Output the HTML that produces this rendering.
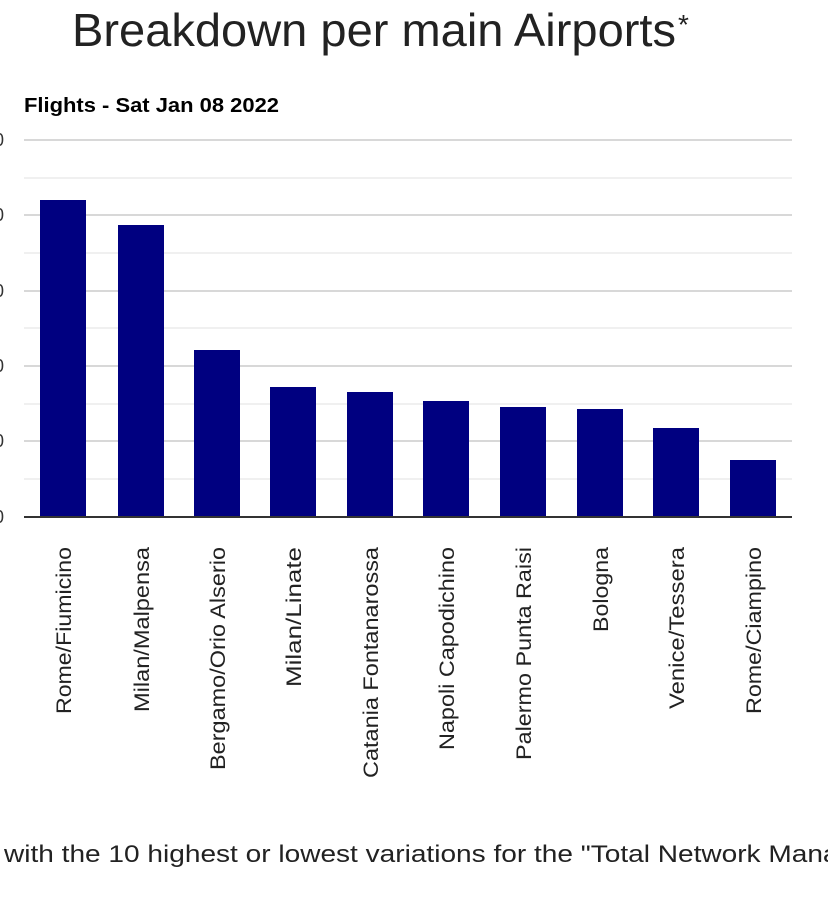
<!DOCTYPE html>
<html><head><meta charset="utf-8"><style>
body{margin:0;width:828px;height:892px;background:#fff;overflow:hidden;font-family:"Liberation Sans",sans-serif;}
</style></head><body>
<svg width="828" height="892" xmlns="http://www.w3.org/2000/svg" font-family="Liberation Sans, sans-serif">
<text x="72" y="46" font-size="46" fill="#222" textLength="604" lengthAdjust="spacingAndGlyphs">Breakdown per main Airports</text>
<text x="678" y="34" font-size="28" fill="#222">*</text>
<text x="24" y="112" font-size="20" font-weight="bold" fill="#000" textLength="255" lengthAdjust="spacingAndGlyphs">Flights - Sat Jan 08 2022</text>
<g stroke="#ececec" stroke-width="1.5">
<line x1="24" x2="792" y1="178" y2="178"/><line x1="24" x2="792" y1="253" y2="253"/><line x1="24" x2="792" y1="328" y2="328"/><line x1="24" x2="792" y1="404" y2="404"/><line x1="24" x2="792" y1="479" y2="479"/>
</g>
<g stroke="#cccccc" stroke-width="1.5">
<line x1="24" x2="792" y1="140" y2="140"/><line x1="24" x2="792" y1="215" y2="215"/><line x1="24" x2="792" y1="291" y2="291"/><line x1="24" x2="792" y1="366" y2="366"/><line x1="24" x2="792" y1="441" y2="441"/>
</g>
<g font-size="18" fill="#333"><text x="-6" y="146">0</text><text x="-6" y="221">0</text><text x="-6" y="297">0</text><text x="-6" y="372">0</text><text x="-6" y="447">0</text><text x="-6" y="523">0</text></g>
<g fill="#000080">
<rect x="40" y="200" width="46" height="317"/>
<rect x="118" y="225" width="46" height="292"/>
<rect x="194" y="350" width="46" height="167"/>
<rect x="270" y="387" width="46" height="130"/>
<rect x="347" y="392" width="46" height="125"/>
<rect x="423" y="401" width="46" height="116"/>
<rect x="500" y="407" width="46" height="110"/>
<rect x="577" y="409" width="46" height="108"/>
<rect x="653" y="428" width="46" height="89"/>
<rect x="730" y="460" width="46" height="57"/>
</g>
<line x1="24" x2="792" y1="517" y2="517" stroke="#333" stroke-width="2"/>
<g font-size="21" fill="#222" text-anchor="end">
<text transform="translate(71,547) rotate(-90)" textLength="167" lengthAdjust="spacingAndGlyphs">Rome/Fiumicino</text>
<text transform="translate(149,547) rotate(-90)" textLength="165" lengthAdjust="spacingAndGlyphs">Milan/Malpensa</text>
<text transform="translate(225,547) rotate(-90)" textLength="223" lengthAdjust="spacingAndGlyphs">Bergamo/Orio Alserio</text>
<text transform="translate(301,547) rotate(-90)" textLength="140" lengthAdjust="spacingAndGlyphs">Milan/Linate</text>
<text transform="translate(378,547) rotate(-90)" textLength="231" lengthAdjust="spacingAndGlyphs">Catania Fontanarossa</text>
<text transform="translate(454,547) rotate(-90)" textLength="203" lengthAdjust="spacingAndGlyphs">Napoli Capodichino</text>
<text transform="translate(531,547) rotate(-90)" textLength="213" lengthAdjust="spacingAndGlyphs">Palermo Punta Raisi</text>
<text transform="translate(608,547) rotate(-90)" textLength="85" lengthAdjust="spacingAndGlyphs">Bologna</text>
<text transform="translate(684,547) rotate(-90)" textLength="162" lengthAdjust="spacingAndGlyphs">Venice/Tessera</text>
<text transform="translate(761,547) rotate(-90)" textLength="167" lengthAdjust="spacingAndGlyphs">Rome/Ciampino</text>
</g>
<text x="4" y="862" font-size="24" fill="#222" textLength="885" lengthAdjust="spacingAndGlyphs">with the 10 highest or lowest variations for the "Total Network Manager"</text>
</svg>
</body></html>
